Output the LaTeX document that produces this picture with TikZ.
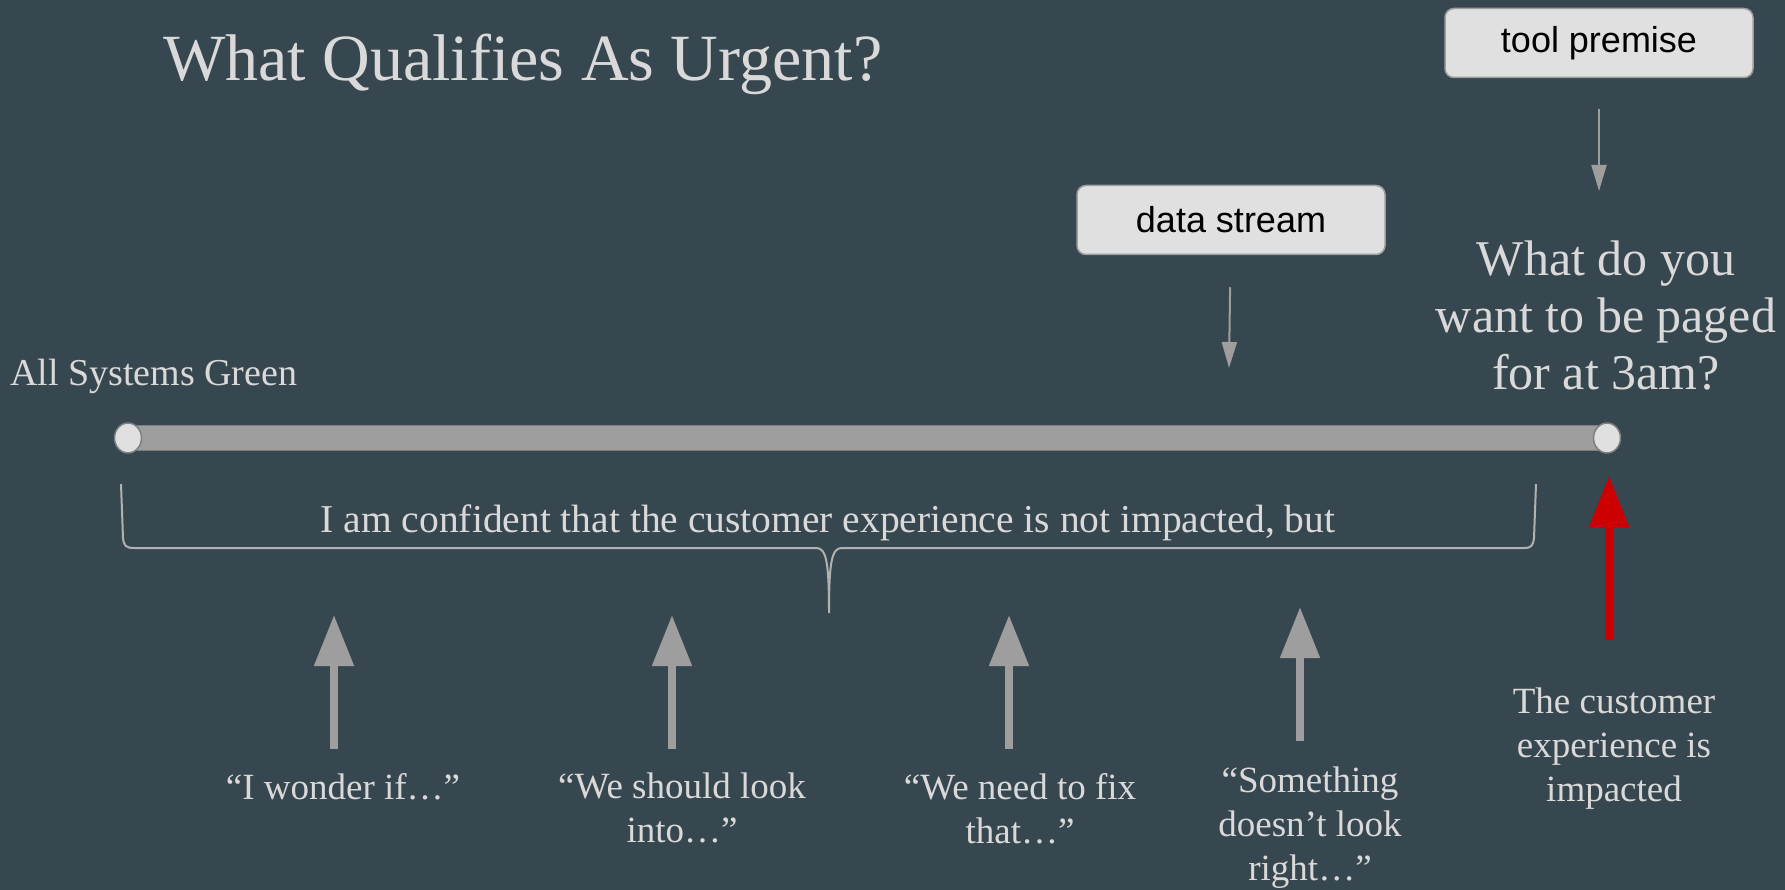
\documentclass[tikz,border=0pt]{standalone}
\usepackage{fontspec}
\setmainfont{Liberation Serif}
\newfontfamily\boxfont{Liberation Sans}
\usepackage{tikz}
\usetikzlibrary{arrows.meta,positioning,shapes.geometric}

\definecolor{slate}{HTML}{37474F}
\definecolor{chalk}{HTML}{D9D9D9}
\definecolor{pebble}{HTML}{9E9E9E}
\definecolor{railedge}{HTML}{7A7F82}
\definecolor{boxfill}{HTML}{E0E0E0}
\definecolor{alarm}{HTML}{CC0000}

\tikzset{
  tagbox/.style={rectangle,rounded corners=9pt,draw=pebble,line width=1.5pt,
    fill=boxfill,minimum width=308pt,minimum height=69pt,text=black,
    font=\boxfont\fontsize{36}{40}\selectfont},
  quote/.style={inner sep=0pt,align=center,text=chalk,
    font=\fontsize{37}{44}\selectfont},
  endcap/.style={ellipse,draw=railedge,line width=1.5pt,fill=boxfill,
    minimum width=27pt,minimum height=30pt,inner sep=0pt},
  hint/.style={pebble,line width=8pt,-{Triangle[length=51pt,width=38pt]}},
  pointer/.style={pebble,line width=2pt,-{Triangle[length=26pt,width=15pt]}},
}

\begin{document}
\begin{tikzpicture}[x=1pt,y=-1pt]
  \fill[slate] (0,0) rectangle (1785,890);
  \useasboundingbox (0,0) rectangle (1785,890);

  % heading
  \node[anchor=base west,inner sep=0pt,text=chalk,
    font=\fontsize{66}{70}\selectfont] (title) at (163,81)
    {What Qualifies As Urgent?};

  % the scale itself
  \coordinate (green) at (128,438);
  \coordinate (paged) at (1607,438);
  \draw[railedge,fill=pebble,line width=1.5pt]
    ([yshift=12.5pt]green) rectangle ([yshift=-12.5pt]paged);
  \node[endcap] (green-end) at (green) {};
  \node[endcap] (paged-end) at (paged) {};

  \node[anchor=base west,inner sep=0pt,text=chalk,
    font=\fontsize{38}{44}\selectfont] (green-label) at (10,385)
    {All Systems Green};

  \node[anchor=north,inner sep=0pt,align=center,text=chalk,
    font=\fontsize{50}{57}\selectfont] (paged-label) at (1606,241)
    {What do you\\want to be paged\\for at 3am?};

  % sources
  \node[tagbox] (premise) at (1599,43) {tool premise};
  \node[tagbox] (stream) at (1231,220) {data stream};
  \coordinate (premise-tip) at (1599,191);
  \coordinate (stream-tip) at (1229,368);
  \draw[pointer,shorten <=31pt] (premise) -- (premise-tip);
  \draw[pointer,shorten <=32pt] (stream) -- (stream-tip);

  % brace under the scale
  \coordinate (brace-l) at (121,484);
  \coordinate (brace-r) at (1536,484);
  \coordinate (brace-tip) at (829,613);
  \draw[pebble!80!white,line width=2pt]
    (brace-l) -- (123,538) .. controls (124,546) and (126,548) .. (134,548)
    -- (816,548) .. controls (826,548) and (829,560) .. (brace-tip)
    .. controls (829,560) and (832,548) .. (842,548)
    -- (1524,548) .. controls (1531,548) and (1533,546) .. (1534,538)
    -- (brace-r);
  \node[anchor=base,inner sep=0pt,text=chalk,
    font=\fontsize{39.5}{44}\selectfont] (brace-label) at (828,532)
    {I am confident that the customer experience is not impacted, but};

  % what people say along the way
  \coordinate (wonder-tail) at (334,749);
  \coordinate (look-tail) at (672,749);
  \coordinate (fix-tail) at (1009,749);
  \coordinate (right-tail) at (1300,741);
  \coordinate (alarm-tail) at (1609,640);
  \foreach \name/\top in {wonder/615,look/615,fix/615,right/607}
    \draw[hint] (\name-tail) -- (\name-tail |- 0,\top);
  \draw[hint,alarm] (alarm-tail) -- (alarm-tail |- 0,476);

  \node[quote,below=24pt of wonder-tail,xshift=9pt] (wonder) {“I wonder if…”};
  \node[quote,below=24pt of look-tail,xshift=10pt] (look) {“We should look\\into…”};
  \node[quote,below=24pt of fix-tail,xshift=11pt] (fix) {“We need to fix\\that…”};
  \node[quote,below=26pt of right-tail,xshift=10pt] (right) {“Something\\doesn’t look\\right…”};
  \node[quote,below=48pt of alarm-tail,xshift=5pt] (impact) {The customer\\experience is\\impacted};
\end{tikzpicture}
\end{document}
